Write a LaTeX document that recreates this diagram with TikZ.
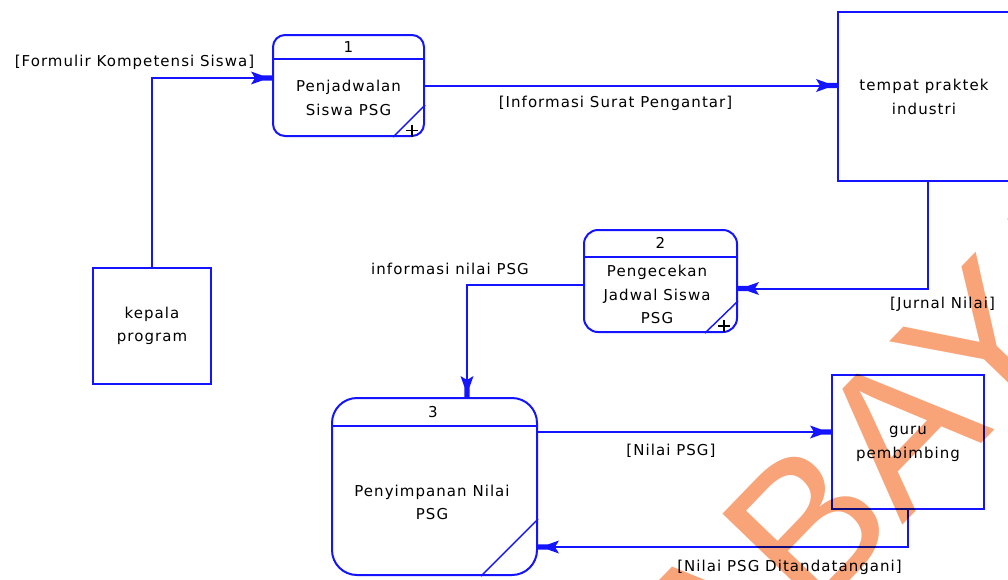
\documentclass[tikz,border=0pt]{standalone}
\usepackage{fontspec}
\setmainfont{DejaVu Sans}[LetterSpace=7]
\newfontfamily\wmfont{Liberation Sans}
\usetikzlibrary{arrows.meta}
\definecolor{dfdblue}{RGB}{20,20,255}
\definecolor{wmorange}{RGB}{249,163,120}

% dart-shaped flow head: narrow block at the tip, flared fins behind it
\pgfdeclarearrow{
  name = Dart,
  setup code = {
    \pgfarrowssettipend{0pt}
    \pgfarrowssetlineend{-15pt}
    \pgfarrowssetvisualbackend{-21pt}
    \pgfarrowssetbackend{-21pt}
    \pgfarrowshullpoint{0pt}{2.5pt}
    \pgfarrowshullpoint{0pt}{-2.5pt}
    \pgfarrowshullpoint{-21pt}{6pt}
    \pgfarrowshullpoint{-21pt}{-6pt}
  },
  drawing code = {
    \pgfpathmoveto{\pgfqpoint{0pt}{2.6pt}}
    \pgfpathlineto{\pgfqpoint{-10pt}{2.6pt}}
    \pgfpathlineto{\pgfqpoint{-21pt}{6.5pt}}
    \pgfpathlineto{\pgfqpoint{-17pt}{0pt}}
    \pgfpathlineto{\pgfqpoint{-21pt}{-6.5pt}}
    \pgfpathlineto{\pgfqpoint{-10pt}{-2.6pt}}
    \pgfpathlineto{\pgfqpoint{0pt}{-2.6pt}}
    \pgfpathclose
    \pgfusepathqfill
  }
}

\tikzset{
  edge/.style={draw=dfdblue, line width=2pt},
  flow/.style={edge, -Dart},
  proc/.style={edge, rounded corners=12pt, inner sep=0pt},
  ext/.style={edge, inner sep=0pt},
  txt/.style={font=\fontsize{15}{23.5}\selectfont, align=center, inner sep=0pt},
  lbl/.style={font=\fontsize{15}{17}\selectfont, inner sep=0pt},
  plusmark/.style={draw=black, line width=1.4pt},
  wm/.style={font=\wmfont\fontsize{200}{200}\selectfont, text=wmorange, rotate=46, inner sep=0pt}
}

\begin{document}
\begin{tikzpicture}[x=1pt,y=-1pt]
\useasboundingbox (0,0) rectangle (1008,579);

% processes
\node[proc, minimum width=151pt, minimum height=101pt] (p1) at (348.5,85.5) {};
\node[proc, rounded corners=14pt, minimum width=153pt, minimum height=102pt] (p2) at (660.5,281) {};
\node[proc, rounded corners=25pt, minimum width=205pt, minimum height=177pt] (p3) at (434.5,486.5) {};

% header lines and corner marks
\draw[edge] ([yshift=-25pt]p1.north west) -- ([yshift=-25pt]p1.north east);
\draw[edge] ([yshift=-28pt]p2.north west) -- ([yshift=-28pt]p2.north east);
\draw[edge] ([yshift=-29pt]p3.north west) -- ([yshift=-29pt]p3.north east);
\draw[edge, line width=1.4pt] ([xshift=-32pt]p1.south east) -- ([yshift=32pt]p1.south east);
\draw[edge, line width=1.4pt] ([xshift=-33pt]p2.south east) -- ([yshift=32pt]p2.south east);
\draw[edge, line width=1.4pt] ([xshift=-57pt]p3.south east) -- ([yshift=57pt]p3.south east);
\draw[plusmark] ([shift={(-19pt,6.5pt)}]p1.south east) -- ++(12pt,0pt);
\draw[plusmark] ([shift={(-13pt,12.5pt)}]p1.south east) -- ++(0pt,-12pt);
\draw[plusmark] ([shift={(-20pt,7pt)}]p2.south east) -- ++(12pt,0pt);
\draw[plusmark] ([shift={(-14pt,13pt)}]p2.south east) -- ++(0pt,-12pt);

% process texts
\node[txt] (n1) at (348.5,47) {1};
\node[txt] (t1) at (348.5,98) {Penjadwalan\\Siswa PSG};
\node[txt] (n2) at (660.5,243) {2};
\node[txt] (t2) at (657,294.5) {Pengecekan\\Jadwal Siswa\\PSG};
\node[txt] (n3) at (433,412) {3};
\node[txt] (t3) at (432,502.5) {Penyimpanan Nilai\\PSG};

% external entities
\node[ext, minimum width=118pt, minimum height=116pt] (k) at (152,326) {};
\node[ext, minimum width=172pt, minimum height=169pt] (t) at (924,96.5) {};
\node[ext, minimum width=152pt, minimum height=134pt] (g) at (908,442) {};
\node[txt] (tk) at (152,326) {kepala\\program};
\node[txt] (tt) at (924,97) {tempat praktek\\industri};
\node[txt] (tg) at (908,444) {guru\\pembimbing};

% data flows
\draw[flow] (k.north) |- ([yshift=7.5pt]p1.west);
\draw[flow] (p1.east) -- (p1.east -| t.west);
\draw[flow] ([xshift=4pt]t.south) |- ([yshift=-7.5pt]p2.east);
\draw[flow] ([yshift=-4pt]p2.west) -| ([xshift=32.5pt]p3.north);
\draw[flow] ([yshift=54.5pt]p3.east) -- ([yshift=54.5pt]p3.east -| g.west);
\draw[flow] (g.south) |- ([yshift=-60.5pt]p3.east);

% flow labels
\node[lbl] (lf) at (134.5,62) {[Formulir Kompetensi Siswa]};
\node[lbl] (li) at (615.5,103) {[Informasi Surat Pengantar]};
\node[lbl] (lj) at (942.5,304) {[Jurnal Nilai]};
\node[lbl] (ln) at (450,269) {informasi nilai PSG};
\node[lbl] (lp) at (671,451) {[Nilai PSG]};
\node[lbl] (ld) at (789.5,567) {[Nilai PSG Ditandatangani]};

% watermark
\begin{scope}[blend mode=multiply]
\node[wm, anchor=base west] (wmb) at (810,622) {BAYA};
\node[wm, anchor=base east] (wma) at (810,622) {SURA};
\end{scope}
\end{tikzpicture}
\end{document}
